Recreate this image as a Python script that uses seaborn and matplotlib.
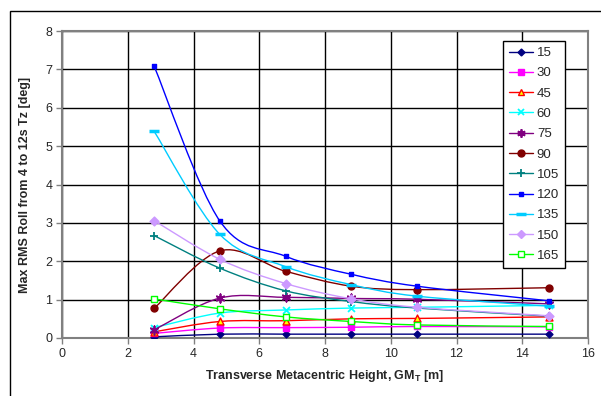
import numpy as np
import pandas as pd
import matplotlib
matplotlib.use("Agg")
import matplotlib.pyplot as plt
from matplotlib.path import Path
from matplotlib.patches import PathPatch, Rectangle
from matplotlib.lines import Line2D
import seaborn as sns

gm = [2.8, 4.8, 6.8, 8.8, 10.8, 14.8]
headings = ["15", "30", "45", "60", "75", "90", "105", "120", "135", "150", "165"]
s15 = [0.03, 0.10, 0.10, 0.10, 0.10, 0.10]
s30 = [0.12, 0.26, 0.27, 0.28, 0.30, 0.29]
s45 = [0.16, 0.43, 0.45, 0.50, 0.51, 0.55]
s60 = [0.27, 0.65, 0.73, 0.78, 0.80, 0.85]
s75 = [0.21, 1.04, 1.06, 1.03, 1.01, 0.89]
s90 = [0.77, 2.27, 1.74, 1.35, 1.26, 1.31]
s105 = [2.67, 1.82, 1.23, 0.95, 0.78, 0.57]
s120 = [7.09, 3.05, 2.13, 1.66, 1.35, 0.97]
s135 = [5.39, 2.70, 1.86, 1.39, 1.09, 0.83]
s150 = [3.06, 2.05, 1.42, 1.02, 0.80, 0.58]
s165 = [1.02, 0.76, 0.55, 0.43, 0.34, 0.30]
series = [s15, s30, s45, s60, s75, s90, s105, s120, s135, s150, s165]

colors = ["#000080", "#FF00FF", "#FF0000", "#00FFFF", "#800080", "#800000",
          "#008080", "#0000FF", "#00CCFF", "#CC99FF", "#00FF00"]
markers = ["D", "s", "^", "x", (6, 2, 0), "o", "+", "s", "_", "D", "s"]
msizes = [3.5, 4.5, 5, 5, 6, 5, 6, 2.5, 6.5, 4.5, 5]
faces = ["#000080", "#FF00FF", "#FFFF00", "#00FFFF", "#800080", "#800000",
         "#008080", "#0000FF", "#00CCFF", "#CC99FF", "white"]

rows = []
for h, vals in zip(headings, series):
    for x, v in zip(gm, vals):
        rows.append({"GM": x, "Roll": v, "Heading": h})
df = pd.DataFrame(rows)

sns.set_style("white")
plt.rcParams["font.family"] = ["Liberation Sans", "DejaVu Sans"]

fig = plt.figure(figsize=(6.01, 3.96), dpi=100)
ax = fig.add_axes([62/601, (396-338)/396, (588-62)/601, (338-31)/396])

# outer chart-area border
fig.patches.append(Rectangle((10/601, -0.05), 1.0, (396-11)/396 + 0.05,
                             transform=fig.transFigure, fill=False,
                             edgecolor="black", linewidth=1.0, zorder=0))

def is_line_marker(m):
    return m in ("x", "+", "_") or isinstance(m, tuple)

# markers through seaborn
for i, h in enumerate(headings):
    sub = df[df["Heading"] == h]
    m = markers[i]
    if is_line_marker(m):
        kw = dict(marker=m, s=msizes[i]**2, color=colors[i],
                  linewidth=1.3 if m != "_" else 2.5, zorder=4)
    else:
        kw = dict(marker=m, s=msizes[i]**2, color=faces[i], edgecolor=colors[i],
                  linewidth=1.0, zorder=4)
    sns.scatterplot(data=sub, x="GM", y="Roll", ax=ax, legend=False, **kw)

# smoothed lines (Excel-style Bezier through the data points)
def smooth_path(xs, ys):
    P = np.column_stack([xs, ys])
    n = len(P)
    verts = [P[0]]
    codes = [Path.MOVETO]
    for i in range(n - 1):
        p0 = P[i - 1] if i > 0 else P[i]
        p1 = P[i]
        p2 = P[i + 1]
        p3 = P[i + 2] if i + 2 < n else P[i + 1]
        c1 = p1 + (p2 - p0) / 6.0
        c2 = p2 - (p3 - p1) / 6.0
        verts += [c1, c2, p2]
        codes += [Path.CURVE4] * 3
    return Path(verts, codes)

for i, vals in enumerate(series):
    patch = PathPatch(smooth_path(np.array(gm), np.array(vals)), facecolor="none",
                      edgecolor=colors[i], linewidth=1.0, zorder=3)
    ax.add_patch(patch)

ax.set_xlim(0, 16)
ax.set_ylim(0, 8)
ax.set_xticks(range(0, 17, 2))
ax.set_yticks(range(0, 9))
ax.grid(True, color="black", linewidth=1.0)
ax.set_axisbelow(True)
for sp in ax.spines.values():
    sp.set_color("#808080")
    sp.set_linewidth(1.5)
ax.tick_params(axis="both", direction="out", length=4, width=1, color="#808080",
               labelsize=9, pad=3, left=True, bottom=True)
ax.set_xlabel("Transverse Metacentric Height, GM$_\\mathregular{T}$ [m]", fontsize=9,
              fontweight="bold", labelpad=6)
ax.set_ylabel("Max RMS Roll from 4 to 12s Tz [deg]", fontsize=9, fontweight="bold", labelpad=10)

handles = []
for i, h in enumerate(headings):
    m = markers[i]
    if is_line_marker(m):
        hd = Line2D([], [], color=colors[i], marker=m, markersize=msizes[i],
                    markeredgewidth=1.3 if m != "_" else 2.5, linewidth=1.0)
    else:
        hd = Line2D([], [], color=colors[i], marker=m, markersize=msizes[i],
                    markerfacecolor=faces[i], markeredgecolor=colors[i], linewidth=1.0)
    handles.append(hd)
leg = ax.legend(handles, headings, loc="upper right",
                bbox_to_anchor=((565-62)/526, (338-41)/307),
                fontsize=9.5, frameon=True, fancybox=False, framealpha=1,
                edgecolor="black", handlelength=1.8, labelspacing=0.61,
                borderpad=0.45, handletextpad=0.3, borderaxespad=0)
leg.get_frame().set_linewidth(1.0)

fig.savefig("out.png", dpi=100)
